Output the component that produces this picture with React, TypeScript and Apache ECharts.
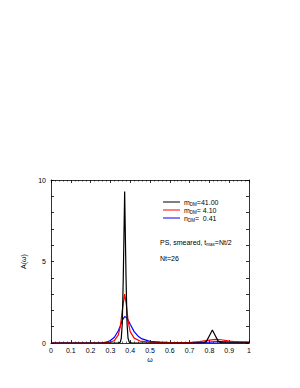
import React, { useEffect, useRef } from "react";
import * as echarts from "echarts";

const blackX = [0, 0.3, 0.34, 0.35, 0.355, 0.36, 0.365, 0.372, 0.379, 0.384, 0.389, 0.395, 0.41, 0.77, 0.785, 0.8, 0.815, 0.83, 0.845, 0.86, 1];
const blackY = [0, 0, 0, 0.05, 0.3, 1.2, 4.0, 9.3, 4.0, 1.2, 0.3, 0.05, 0, 0, 0.1, 0.45, 0.8, 0.45, 0.1, 0.02, 0.01];
const redX = [0, 0.25, 0.3, 0.32, 0.34, 0.35, 0.36, 0.372, 0.38, 0.39, 0.4, 0.42, 0.45, 0.5, 0.6, 0.7, 0.75, 0.8, 0.83, 0.86, 0.9, 0.95, 1];
const redY = [0, 0, 0.05, 0.15, 0.5, 1.0, 2.0, 3.0, 2.4, 1.3, 0.7, 0.3, 0.12, 0.05, 0.02, 0.03, 0.08, 0.18, 0.22, 0.2, 0.12, 0.06, 0.04];
const blueX = [0, 0.25, 0.28, 0.3, 0.32, 0.34, 0.35, 0.36, 0.372, 0.38, 0.39, 0.4, 0.42, 0.44, 0.46, 0.5, 0.55, 0.6, 0.7, 0.8, 0.85, 0.9, 1];
const blueY = [0, 0, 0.05, 0.15, 0.35, 0.75, 1.05, 1.4, 1.62, 1.58, 1.4, 1.15, 0.7, 0.42, 0.25, 0.1, 0.05, 0.03, 0.02, 0.05, 0.08, 0.07, 0.05];

const zip = (xs: number[], ys: number[]) => xs.map((x, i) => [x, ys[i]]);

export default function App() {
  const ref = useRef<HTMLDivElement>(null);
  useEffect(() => {
    const chart = echarts.init(ref.current!, undefined, { renderer: "svg" });
    const font = "Liberation Sans";
    const tickCommon = { show: true, inside: true, length: 3, lineStyle: { color: "#000", width: 0.8 } };
    const minor = { show: true, splitNumber: 5, length: 1.5, lineStyle: { color: "#000", width: 0.6 } };
    chart.setOption({
      animation: false,
      grid: { left: 51, right: 51, top: 180, bottom: 45 },
      xAxis: [
        {
          type: "value", min: 0, max: 1, interval: 0.1,
          name: "ω", nameLocation: "middle", nameGap: 13,
          nameTextStyle: { fontFamily: font, fontSize: 7, color: "#000" },
          axisLine: { show: true, onZero: false, lineStyle: { color: "#000", width: 0.8 } },
          axisTick: tickCommon, minorTick: minor,
          axisLabel: { fontFamily: font, fontSize: 7, color: "#000", margin: 4, formatter: (v: number) => String(Math.round(v * 10) / 10) },
          splitLine: { show: false },
        },
        {
          type: "value", min: 0, max: 1, interval: 0.1, position: "top",
          axisLine: { show: true, onZero: false, lineStyle: { color: "#000", width: 0.8 } },
          axisTick: tickCommon, minorTick: minor,
          axisLabel: { show: false }, splitLine: { show: false },
        },
      ],
      yAxis: [
        {
          type: "value", min: 0, max: 10, interval: 1,
          name: "A(ω)", nameLocation: "middle", nameGap: 14, nameRotate: 90,
          nameTextStyle: { fontFamily: font, fontSize: 7, color: "#000" },
          axisLine: { show: true, onZero: false, lineStyle: { color: "#000", width: 0.8 } },
          axisTick: tickCommon,
          axisLabel: { fontFamily: font, fontSize: 7, color: "#000", margin: 5, formatter: (v: number) => (v % 5 === 0 ? String(v) : "") },
          splitLine: { show: false },
        },
        {
          type: "value", min: 0, max: 10, interval: 1, position: "right",
          axisLine: { show: true, onZero: false, lineStyle: { color: "#000", width: 0.8 } },
          axisTick: tickCommon, axisLabel: { show: false }, splitLine: { show: false },
        },
      ],
      series: [
        { type: "line", data: zip(blackX, blackY), showSymbol: false, lineStyle: { color: "#000", width: 1.2 }, z: 3 },
        { type: "line", data: zip(redX, redY), showSymbol: false, lineStyle: { color: "#ff0000", width: 1.2 }, z: 2 },
        { type: "line", data: zip(blueX, blueY), showSymbol: false, lineStyle: { color: "#0000ff", width: 1.2 }, z: 1 },
      ],
      graphic: [
        { type: "line", shape: { x1: 163, y1: 202, x2: 180, y2: 202 }, style: { stroke: "#000", lineWidth: 1 } },
        { type: "line", shape: { x1: 163, y1: 210, x2: 180, y2: 210 }, style: { stroke: "#ff0000", lineWidth: 1 } },
        { type: "line", shape: { x1: 163, y1: 218, x2: 180, y2: 218 }, style: { stroke: "#0000ff", lineWidth: 1 } },
        { type: "text", x: 184, y: 202, style: { text: "m{s|DM}=41.00", rich: { s: { fontSize: 4.5, verticalAlign: "bottom", padding: [4, 0, 0, 0] } }, fontFamily: font, fontSize: 7, fill: "#000", verticalAlign: "middle" } },
        { type: "text", x: 184, y: 210, style: { text: "m{s|DM}= 4.10", rich: { s: { fontSize: 4.5, padding: [4, 0, 0, 0] } }, fontFamily: font, fontSize: 7, fill: "#000", verticalAlign: "middle" } },
        { type: "text", x: 184, y: 218, style: { text: "n{s|DM}=  0.41", rich: { s: { fontSize: 4.5, padding: [4, 0, 0, 0] } }, fontFamily: font, fontSize: 7, fill: "#000", verticalAlign: "middle" } },
        { type: "text", x: 160, y: 242, style: { text: "PS, smeared, t{s|max}=Nt/2", rich: { s: { fontSize: 4.5, padding: [4, 0, 0, 0] } }, fontFamily: font, fontSize: 7, fill: "#000", verticalAlign: "middle" } },
        { type: "text", x: 160, y: 258, style: { text: "Nt=26", fontFamily: font, fontSize: 7, fill: "#000", verticalAlign: "middle" } },
      ],
    });
    return () => chart.dispose();
  }, []);
  return <div ref={ref} style={{ width: 300, height: 388, position: "absolute", left: 0, top: 0 }} />;
}
